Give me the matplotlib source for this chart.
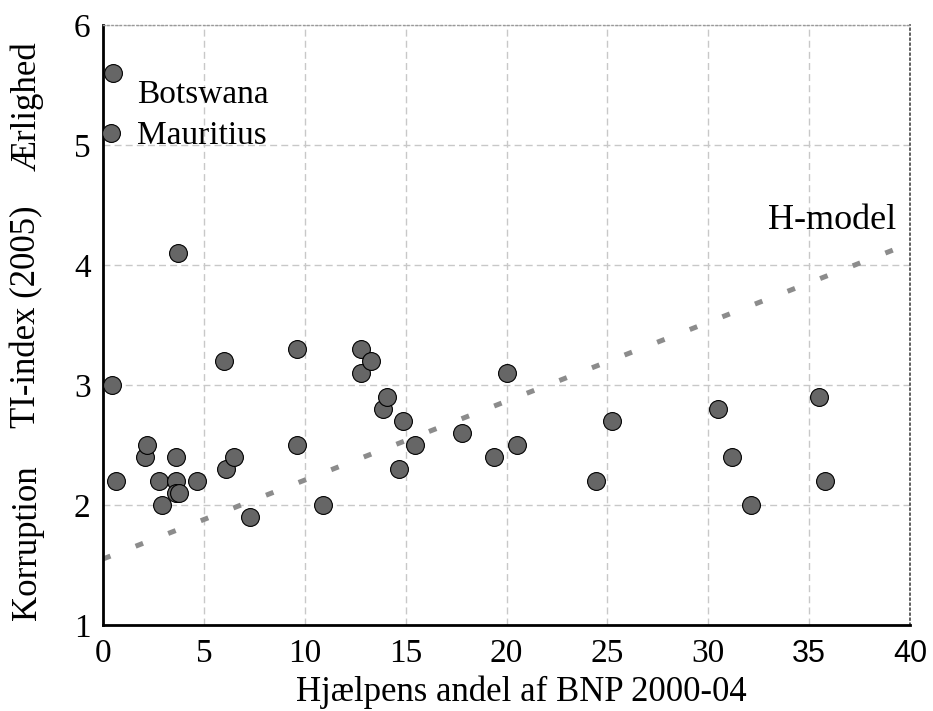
import matplotlib.pyplot as plt

# aid share of GDP 2000-04 (%) and TI index 2005
aid = [0.5, 0.4, 3.7, 0.45, 0.65, 2.1, 2.2, 2.8, 2.9, 3.6, 3.6, 3.6, 3.75,
       4.65, 6.0, 6.1, 6.5, 7.3, 9.6, 9.6, 10.9, 12.8, 12.8, 13.3, 13.9, 14.1,
       14.65, 14.85, 15.45, 17.8, 19.4, 20.0, 20.5, 24.45, 25.25, 30.5, 31.2,
       32.1, 35.5, 35.8]
ti = [5.6, 5.1, 4.1, 3.0, 2.2, 2.4, 2.5, 2.2, 2.0, 2.4, 2.2, 2.1, 2.1,
      2.2, 3.2, 2.3, 2.4, 1.9, 3.3, 2.5, 2.0, 3.3, 3.1, 3.2, 2.8, 2.9,
      2.3, 2.7, 2.5, 2.6, 2.4, 3.1, 2.5, 2.2, 2.7, 2.8, 2.4,
      2.0, 2.9, 2.2]

# H-model line
model_x = [0, 40]
model_y = [1.55, 4.18]

xticks = [0, 5, 10, 15, 20, 25, 30, 35, 40]
yticks = [1, 2, 3, 4, 5, 6]

serif = "Liberation Serif"
sans = "Liberation Sans"

fig = plt.figure(figsize=(9.33, 7.11), dpi=100)
ax = fig.add_axes([0.1104, 0.121, 0.865, 0.8438])

ax.grid(True, color="#c8c8c8", linestyle=(0, (5, 3)), linewidth=1)
ax.set_axisbelow(True)

ax.plot(model_x, model_y, color="#8c8c8c", linewidth=3.6,
        linestyle=(0, (1.6, 5.4)), solid_capstyle="butt", zorder=2)
ax.scatter(aid, ti, s=165, color="#666666", edgecolors="black",
           linewidths=0.8, zorder=3)

ax.text(1.7, 5.42, "Botswana", fontsize=24, family=serif, va="center")
ax.text(1.7, 5.08, "Mauritius", fontsize=24, family=serif, va="center")
ax.text(39.3, 4.23, "H-model", fontsize=26, family=serif, ha="right",
        va="bottom")

ax.set_xlim(0, 40)
ax.set_ylim(1, 6)
ax.set_xticks(xticks)
ax.set_yticks(yticks)
ax.set_xticklabels([str(t) for t in xticks], fontsize=24, family=serif)
ax.set_yticklabels([str(t) for t in yticks], fontsize=24, family=serif)
for lab in ax.get_xticklabels()[-2:]:
    lab.set_family(sans)
    lab.set_fontsize(22)
ax.tick_params(axis="x", length=0, pad=10)
ax.tick_params(axis="y", length=0, pad=9)

for side in ["left", "bottom"]:
    ax.spines[side].set_linewidth(2)
    ax.spines[side].set_color("black")
ax.spines["top"].set_linestyle((0, (1, 2)))
ax.spines["top"].set_color("#999999")
ax.spines["top"].set_linewidth(1)
ax.spines["right"].set_linestyle((0, (1, 2)))
ax.spines["right"].set_color("#444444")
ax.spines["right"].set_linewidth(1.2)

ax.set_xlabel("Hjælpens andel af BNP 2000-04", fontsize=25, family=serif)
ax.xaxis.set_label_coords(0.518, -0.085)

fig.text(0.029, 1 - 543 / 711, "Korruption", rotation=90, fontsize=25,
         family=serif, ha="center", va="center")
fig.text(0.029, 1 - 317 / 711, "TI-index (2005)", rotation=90, fontsize=25,
         family=serif, ha="center", va="center")
fig.text(0.029, 1 - 106 / 711, "Ærlighed", rotation=90, fontsize=25,
         family=serif, ha="center", va="center")

fig.savefig("out.png", dpi=100)
